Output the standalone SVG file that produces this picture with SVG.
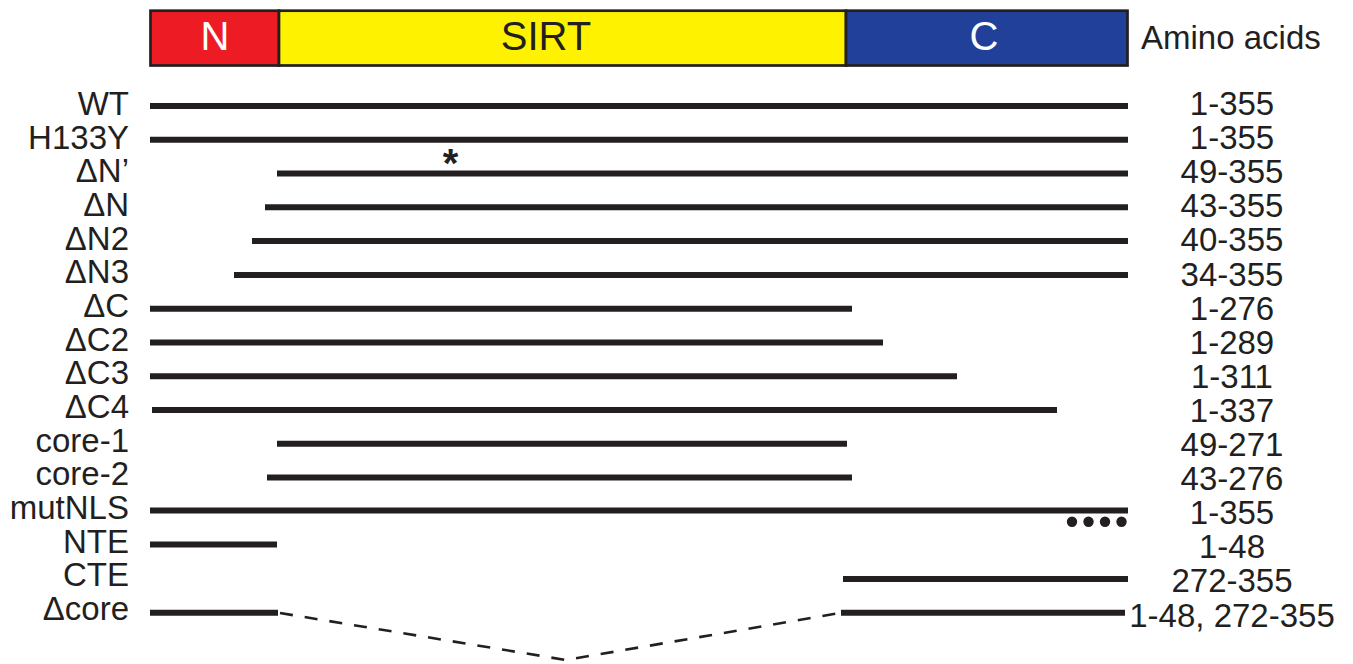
<svg xmlns="http://www.w3.org/2000/svg" width="1353" height="664" viewBox="0 0 1353 664">
  <style>
    .lbl { font-family: "Liberation Sans", Arial, sans-serif; font-size: 33px; fill: #231f20; }
    .name { text-anchor: end; }
    .aa { text-anchor: middle; }
    .dom { font-family: "Liberation Sans", Arial, sans-serif; font-size: 40px; text-anchor: middle; }
    .seg { stroke: #231f20; stroke-width: 6; stroke-linecap: butt; }
    .box { stroke: #231f20; stroke-width: 2.7; }
    .gap { fill: none; stroke: #231f20; stroke-width: 2.6; stroke-dasharray: 13 12; }
  </style>

  <rect width="1353" height="664" fill="#ffffff"/>

  <!-- domain bar -->
  <g id="domain-N">
    <rect class="box" x="150.5" y="10.7" width="128.5" height="54.8" fill="#ed1c24"/>
    <text class="dom" x="215" y="50" fill="#ffffff">N</text>
  </g>
  <g id="domain-SIRT">
    <rect class="box" x="279" y="10.7" width="567" height="54.8" fill="#fff200"/>
    <text class="dom" x="546" y="50" fill="#231f20">SIRT</text>
  </g>
  <g id="domain-C">
    <rect class="box" x="846" y="10.7" width="281.5" height="54.8" fill="#21409a"/>
    <text class="dom" x="984" y="50" fill="#ffffff">C</text>
  </g>
  <text id="header" class="lbl" x="1141" y="48.5" font-size="34">Amino acids</text>

  <!-- constructs -->
  <g id="WT">
    <text class="lbl name" x="129" y="115">WT</text>
    <line class="seg" x1="150" y1="106" x2="1128" y2="106"/>
    <text class="lbl aa" x="1232" y="115">1-355</text>
  </g>
  <g id="H133Y">
    <text class="lbl name" x="129" y="148.7">H133Y</text>
    <line class="seg" x1="150" y1="139.8" x2="1128" y2="139.8"/>
    <text class="lbl aa" x="1232" y="149.1">1-355</text>
    <text x="450.5" y="177" font-family="Liberation Sans, Arial, sans-serif" font-size="40" font-weight="bold" text-anchor="middle" fill="#231f20">*</text>
  </g>
  <g id="dN-prime">
    <text class="lbl name" x="129" y="182.3">ΔN’</text>
    <line class="seg" x1="277" y1="173.6" x2="1128" y2="173.6"/>
    <text class="lbl aa" x="1232" y="183.2">49-355</text>
  </g>
  <g id="dN">
    <text class="lbl name" x="129" y="216">ΔN</text>
    <line class="seg" x1="265" y1="207.3" x2="1128" y2="207.3"/>
    <text class="lbl aa" x="1232" y="217.3">43-355</text>
  </g>
  <g id="dN2">
    <text class="lbl name" x="129" y="249.7">ΔN2</text>
    <line class="seg" x1="252" y1="241.1" x2="1128" y2="241.1"/>
    <text class="lbl aa" x="1232" y="251.4">40-355</text>
  </g>
  <g id="dN3">
    <text class="lbl name" x="129" y="283.3">ΔN3</text>
    <line class="seg" x1="234" y1="274.9" x2="1128" y2="274.9"/>
    <text class="lbl aa" x="1232" y="285.5">34-355</text>
  </g>
  <g id="dC">
    <text class="lbl name" x="129" y="317">ΔC</text>
    <line class="seg" x1="150" y1="308.7" x2="852" y2="308.7"/>
    <text class="lbl aa" x="1232" y="319.6">1-276</text>
  </g>
  <g id="dC2">
    <text class="lbl name" x="129" y="350.7">ΔC2</text>
    <line class="seg" x1="150" y1="342.5" x2="883" y2="342.5"/>
    <text class="lbl aa" x="1232" y="353.7">1-289</text>
  </g>
  <g id="dC3">
    <text class="lbl name" x="129" y="384.3">ΔC3</text>
    <line class="seg" x1="150" y1="376.2" x2="957" y2="376.2"/>
    <text class="lbl aa" x="1232" y="387.8">1-311</text>
  </g>
  <g id="dC4">
    <text class="lbl name" x="129" y="418">ΔC4</text>
    <line class="seg" x1="152" y1="410" x2="1057" y2="410"/>
    <text class="lbl aa" x="1232" y="421.9">1-337</text>
  </g>
  <g id="core-1">
    <text class="lbl name" x="129" y="451.7">core-1</text>
    <line class="seg" x1="277" y1="443.8" x2="847" y2="443.8"/>
    <text class="lbl aa" x="1232" y="456">49-271</text>
  </g>
  <g id="core-2">
    <text class="lbl name" x="129" y="485.3">core-2</text>
    <line class="seg" x1="267" y1="477.6" x2="852" y2="477.6"/>
    <text class="lbl aa" x="1232" y="490.1">43-276</text>
  </g>
  <g id="mutNLS">
    <text class="lbl name" x="129" y="519">mutNLS</text>
    <line class="seg" x1="150" y1="510.5" x2="1128" y2="510.5"/>
    <g fill="#231f20">
      <circle cx="1072" cy="521.7" r="5.2"/>
      <circle cx="1088.5" cy="521.7" r="5.2"/>
      <circle cx="1105" cy="521.7" r="5.2"/>
      <circle cx="1121.5" cy="521.7" r="5.2"/>
    </g>
    <text class="lbl aa" x="1232" y="524.2">1-355</text>
  </g>
  <g id="NTE">
    <text class="lbl name" x="129" y="552.7">NTE</text>
    <line class="seg" x1="150" y1="544.5" x2="277" y2="544.5"/>
    <text class="lbl aa" x="1232" y="558.3">1-48</text>
  </g>
  <g id="CTE">
    <text class="lbl name" x="129" y="586.3">CTE</text>
    <line class="seg" x1="843" y1="578.9" x2="1128" y2="578.9"/>
    <text class="lbl aa" x="1232" y="592.4">272-355</text>
  </g>
  <g id="dcore">
    <text class="lbl name" x="129" y="620">Δcore</text>
    <line class="seg" x1="150" y1="612.7" x2="278" y2="612.7"/>
    <line class="seg" x1="841" y1="612.7" x2="1125" y2="612.7"/>
    <text class="lbl aa" x="1232" y="626.5">1-48, 272-355</text>
  </g>

  <!-- deleted core region -->
  <g id="connectors">
    <polyline class="gap" points="280,613 566,660 840,613"/>
  </g>
</svg>
